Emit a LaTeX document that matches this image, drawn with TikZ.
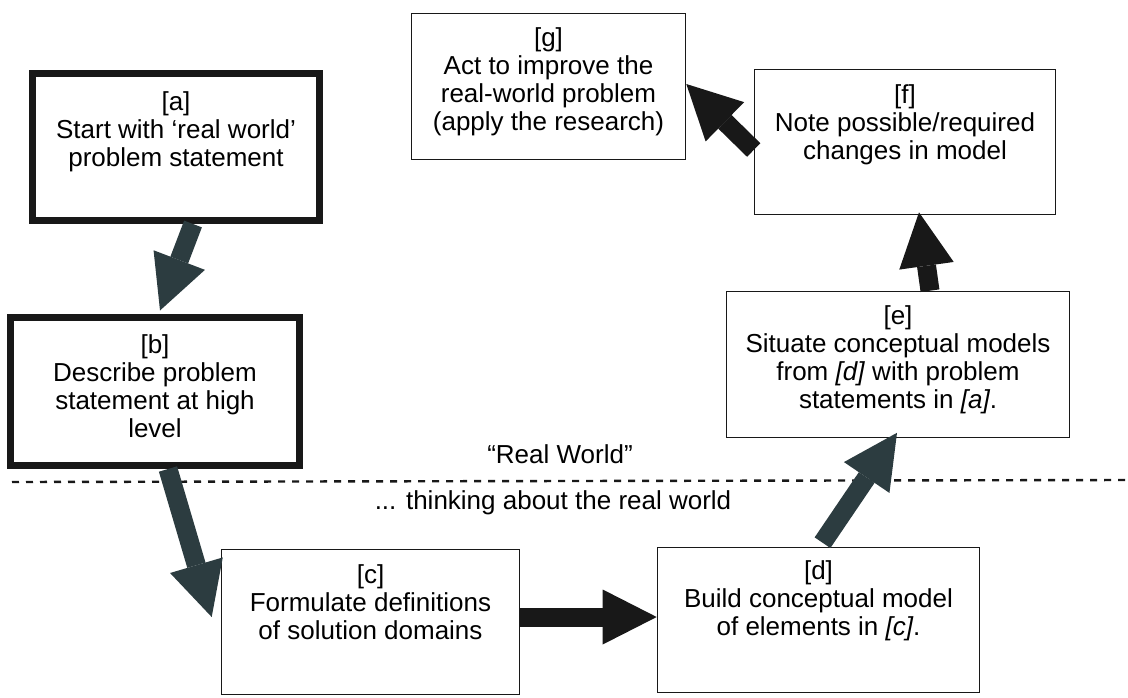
\documentclass[tikz,border=0pt]{standalone}
\usepackage{fontspec}
\setmainfont{Liberation Sans}
\usepackage{tikz}
\usetikzlibrary{positioning,calc,arrows.meta}
\definecolor{slate}{RGB}{44,60,64}
\definecolor{ink}{RGB}{24,24,24}
\tikzset{
    stage/.style={draw=ink, fill=white, line width=1.6pt, minimum width=#1, minimum height=146pt, inner sep=0pt},
    heavy/.style={stage=#1, line width=7pt},
    stagetext/.style={align=center, inner sep=0pt, font=\fontsize{26}{28}\selectfont},
    flow/.style={line width=19pt, -{Triangle[length=54pt,width=55pt,line width=0pt]}}
}
\begin{document}
\begin{tikzpicture}[x=1pt, y=-1pt]
    \useasboundingbox (0,0) rectangle (1128,697);
    \node[heavy=287pt, minimum height=147pt] (a) at (176,147) {};
    \node[heavy=289pt, minimum height=148pt] (b) at (155,391.5) {};
    \node[stage=298pt, minimum height=145pt] (c) at (370.5,622) {};
    \node[stage=322pt, minimum height=145pt] (d) at (818.5,620) {};
    \node[stage=343pt] (e) at (898,364.5) {};
    \node[stage=301pt, minimum height=145pt] (f) at (905,142) {};
    \node[stage=274pt] (g) at (548.5,86.5) {};
    \node[stagetext, below=21pt of a.north] (atext) {[a]\\Start with `real world'\\problem statement};
    \node[stagetext, below=20pt of b.north] (btext) {[b]\\Describe problem\\statement at high\\level};
    \node[stagetext, below=16pt of c.north] (ctext) {[c]\\Formulate definitions\\of solution domains};
    \node[stagetext, below=13.5pt of d.north] (dtext) {[d]\\Build conceptual model\\of elements in \textit{[c]}.};
    \node[stagetext, below=15pt of e.north] (etext) {[e]\\Situate conceptual models\\from \textit{[d]} with problem\\statements in \textit{[a]}.};
    \node[stagetext, below=16pt of f.north] (ftext) {[f]\\Note possible/required\\changes in model};
    \node[stagetext, below=15pt of g.north] (gtext) {[g]\\Act to improve the\\real-world problem\\(apply the research)};
    \coordinate (dashL) at (12,482);
    \coordinate (dashR) at (1128,480);
    \draw[ink, line width=2.4pt, dash pattern=on 7pt off 7pt] (dashL) -- (dashR);
    \node[stagetext, anchor=base] (realworld) at (560,463) {``Real World''};
    \node[stagetext, anchor=base] (thinking) at (553,509) {... thinking about the real world};
    \draw[flow, slate] ([xshift=17pt]a.south) -- ([xshift=5pt,yshift=3.5pt]b.north);
    \draw[flow, slate] ([xshift=13pt]b.south) -- ([xshift=-9pt,yshift=5pt]c.west);
    \draw[flow, ink] ([yshift=5pt]c.east) -- ([yshift=5pt]c.east -| d.west);
    \draw[flow, slate] ([xshift=4pt,yshift=4pt]d.north) -- ([xshift=-1pt,yshift=5.5pt]e.south);
    \draw[flow, ink] ([xshift=32pt]e.north) -- ([xshift=14pt,yshift=3pt]f.south);
    \draw[flow, ink] ([yshift=-8pt]f.west) -- ([yshift=2.5pt]g.east);
\end{tikzpicture}
\end{document}
